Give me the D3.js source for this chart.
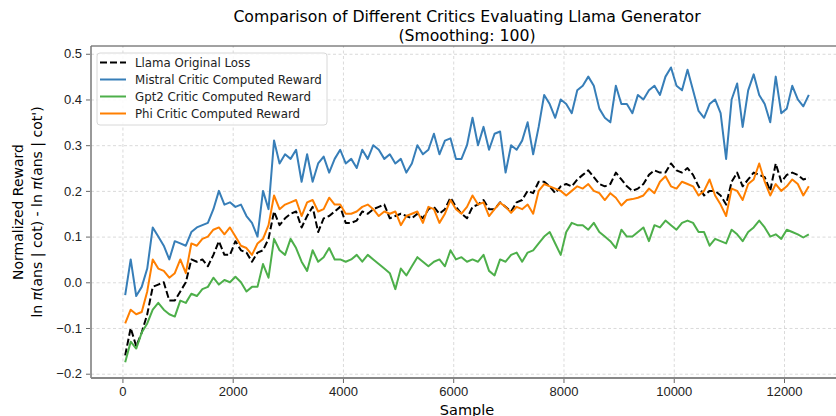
<!DOCTYPE html>
<html>
<head>
<meta charset="utf-8">
<script src="https://cdn.jsdelivr.net/npm/d3@7"></script>
<style>
  body { margin: 0; background: #fff; }
  svg { font-family: "DejaVu Sans", sans-serif; display: block; }
  .grid line { stroke: #d0d0d0; stroke-dasharray: 3,2.5; stroke-width: 0.8; }
  .grid path { display: none; }
  .axis path { display: none; }
  .axis line { stroke: #666; }
  .axis text { font-size: 13px; fill: #222; }
</style>
</head>
<body>
<svg width="836" height="416"></svg>
<script>
// sample positions (every 100 samples, smoothing window 100)
var firstSample = 50, sampleStep = 100;

// values, one per sample position
var llamaLoss = [-0.16,-0.1,-0.14,-0.11,-0.07,-0.01,-0.005,0.0,-0.04,-0.04,
  -0.02,0.0,0.05,0.045,0.05,0.035,0.06,0.09,0.06,0.06,
  0.09,0.07,0.065,0.045,0.065,0.07,0.095,0.155,0.125,0.14,
  0.15,0.155,0.12,0.145,0.165,0.11,0.14,0.145,0.155,0.165,
  0.13,0.13,0.135,0.155,0.15,0.16,0.165,0.17,0.14,0.145,
  0.15,0.145,0.14,0.15,0.14,0.16,0.165,0.15,0.16,0.185,
  0.165,0.15,0.14,0.165,0.17,0.18,0.16,0.16,0.175,0.165,
  0.155,0.175,0.18,0.2,0.195,0.22,0.22,0.21,0.195,0.21,
  0.215,0.21,0.225,0.235,0.245,0.23,0.215,0.21,0.215,0.24,
  0.225,0.21,0.2,0.205,0.215,0.235,0.245,0.24,0.24,0.26,
  0.245,0.24,0.25,0.235,0.21,0.19,0.2,0.2,0.19,0.17,
  0.22,0.24,0.21,0.225,0.24,0.235,0.23,0.2,0.26,0.22,
  0.235,0.24,0.235,0.225,0.228];

var mistralReward = [-0.028,0.05,-0.03,-0.01,0.03,0.12,0.1,0.08,0.05,0.09,
  0.085,0.08,0.11,0.12,0.125,0.13,0.16,0.2,0.17,0.175,
  0.165,0.17,0.145,0.13,0.1,0.2,0.16,0.31,0.26,0.28,
  0.27,0.29,0.22,0.28,0.22,0.26,0.275,0.24,0.27,0.29,
  0.26,0.27,0.25,0.29,0.27,0.3,0.29,0.27,0.28,0.26,
  0.27,0.24,0.26,0.3,0.28,0.29,0.325,0.28,0.31,0.315,
  0.27,0.27,0.3,0.36,0.3,0.34,0.29,0.325,0.33,0.24,
  0.3,0.29,0.31,0.35,0.28,0.34,0.41,0.39,0.36,0.4,
  0.39,0.37,0.42,0.43,0.45,0.43,0.38,0.36,0.35,0.43,
  0.39,0.39,0.37,0.41,0.4,0.42,0.43,0.41,0.45,0.47,
  0.43,0.42,0.465,0.42,0.375,0.36,0.39,0.4,0.37,0.27,
  0.4,0.435,0.34,0.42,0.455,0.41,0.39,0.35,0.45,0.37,
  0.38,0.43,0.4,0.385,0.41];

var gpt2Reward = [-0.175,-0.13,-0.145,-0.11,-0.09,-0.06,-0.045,-0.06,-0.07,-0.075,
  -0.04,-0.045,-0.025,-0.03,-0.015,-0.01,0.01,-0.005,0.005,0.0,
  0.012,0.0,-0.02,-0.01,-0.01,0.04,0.01,0.095,0.07,0.06,
  0.095,0.075,0.045,0.025,0.07,0.045,0.055,0.075,0.05,0.05,
  0.045,0.05,0.06,0.045,0.06,0.05,0.04,0.03,0.02,-0.015,
  0.03,0.015,0.035,0.055,0.045,0.035,0.045,0.05,0.035,0.07,
  0.05,0.055,0.045,0.05,0.045,0.06,0.025,0.015,0.05,0.045,
  0.06,0.065,0.045,0.065,0.07,0.085,0.1,0.11,0.085,0.06,
  0.11,0.13,0.125,0.125,0.115,0.13,0.11,0.1,0.09,0.075,
  0.115,0.1,0.1,0.11,0.12,0.09,0.125,0.12,0.135,0.125,
  0.115,0.13,0.135,0.13,0.11,0.11,0.08,0.095,0.09,0.085,
  0.115,0.105,0.09,0.11,0.12,0.135,0.12,0.1,0.105,0.095,
  0.115,0.11,0.105,0.098,0.105];

var phiReward = [-0.09,-0.06,-0.07,-0.065,-0.02,0.05,0.03,0.025,0.01,0.02,
  0.05,0.02,0.085,0.08,0.095,0.1,0.115,0.12,0.105,0.12,
  0.1,0.08,0.075,0.06,0.085,0.095,0.125,0.19,0.16,0.17,
  0.175,0.18,0.145,0.175,0.18,0.155,0.16,0.185,0.17,0.17,
  0.15,0.15,0.155,0.165,0.17,0.16,0.145,0.155,0.15,0.155,
  0.125,0.145,0.15,0.155,0.13,0.165,0.16,0.13,0.15,0.18,
  0.16,0.15,0.165,0.19,0.17,0.175,0.145,0.16,0.174,0.165,
  0.152,0.165,0.16,0.17,0.15,0.2,0.215,0.21,0.205,0.2,
  0.19,0.2,0.21,0.205,0.215,0.2,0.195,0.18,0.195,0.185,
  0.168,0.18,0.182,0.185,0.19,0.205,0.195,0.22,0.232,0.21,
  0.205,0.22,0.215,0.21,0.19,0.2,0.225,0.19,0.17,0.145,
  0.205,0.2,0.18,0.215,0.225,0.26,0.22,0.19,0.215,0.2,
  0.21,0.225,0.215,0.19,0.21];

var seriesNames = ["Llama Original Loss", "Mistral Critic Computed Reward",
  "Gpt2 Critic Computed Reward", "Phi Critic Computed Reward"];
var seriesColors = ["#000000", "#377eb8", "#4daf4a", "#ff7f00"];
var xTicks = [0, 2000, 4000, 6000, 8000, 10000, 12000];
var yTicks = [-0.2, -0.1, 0.0, 0.1, 0.2, 0.3, 0.4, 0.5];

var samples = d3.range(llamaLoss.length).map(function(i) { return firstSample + i * sampleStep; });
var allSeries = [llamaLoss, mistralReward, gpt2Reward, phiReward];

var svg = d3.select("svg");

// plot box (the right edge runs past the picture, like the original)
var plotL = 91, plotR = 843, plotT = 46, plotB = 378;

var xScale = d3.scaleLinear().domain([-570, 13070]).range([plotL, plotR]);
var yScale = d3.scaleLinear().domain([-0.2094, 0.517]).range([plotB, plotT]);

// grid
svg.append("g")
  .attr("class", "grid")
  .attr("transform", "translate(0," + plotB + ")")
  .call(d3.axisBottom(xScale).tickValues(xTicks).tickSize(-(plotB - plotT)).tickFormat(""));
svg.append("g")
  .attr("class", "grid")
  .attr("transform", "translate(" + plotL + ",0)")
  .call(d3.axisLeft(yScale).tickValues(yTicks).tickSize(-(plotR - plotL)).tickFormat(""));

// lines
var line = d3.line()
  .x(function(d, i) { return xScale(samples[i]); })
  .y(function(d) { return yScale(d); });

allSeries.forEach(function(s, k) {
  svg.append("path")
    .datum(s)
    .attr("fill", "none")
    .attr("stroke", seriesColors[k])
    .attr("stroke-width", 2)
    .attr("stroke-linejoin", "round")
    .attr("stroke-dasharray", k == 0 ? "7,3" : null)
    .attr("d", line);
});

// spines
svg.append("line").attr("x1", plotL).attr("x2", plotR).attr("y1", plotT).attr("y2", plotT)
  .attr("stroke", "#444").attr("stroke-width", 1);
svg.append("line").attr("x1", plotL).attr("x2", plotL).attr("y1", plotT).attr("y2", plotB)
  .attr("stroke", "#777").attr("stroke-width", 1.5);
svg.append("line").attr("x1", plotL).attr("x2", plotR).attr("y1", plotB).attr("y2", plotB)
  .attr("stroke", "#888").attr("stroke-width", 2);

// axes
svg.append("g")
  .attr("class", "axis")
  .attr("transform", "translate(0," + (plotB + 1) + ")")
  .call(d3.axisBottom(xScale).tickValues(xTicks).tickSize(4).tickPadding(4).tickFormat(d3.format("d")));
svg.append("g")
  .attr("class", "axis")
  .attr("transform", "translate(" + (plotL - 1) + ",0)")
  .call(d3.axisLeft(yScale).tickValues(yTicks).tickSize(4).tickPadding(4).tickFormat(function(d) {
    return d3.format(".1f")(d).replace("-", "\u2212");
  }));

// title
svg.append("text").attr("x", 467).attr("y", 22).attr("text-anchor", "middle")
  .attr("font-size", "15.7px").text("Comparison of Different Critics Evaluating Llama Generator");
svg.append("text").attr("x", 467).attr("y", 41).attr("text-anchor", "middle")
  .attr("font-size", "15.7px").text("(Smoothing: 100)");

// axis labels
svg.append("text").attr("x", 467).attr("y", 415).attr("text-anchor", "middle")
  .attr("font-size", "14.5px").text("Sample");
var yl = svg.append("text").attr("transform", "translate(0,212) rotate(-90)")
  .attr("text-anchor", "middle").attr("font-size", "14px");
yl.append("tspan").attr("x", 0).attr("y", 23).text("Normalized Reward");
yl.append("tspan").attr("x", 0).attr("y", 42).html("ln <tspan font-style=\"italic\">\u03c0</tspan>(ans | cot) - ln <tspan font-style=\"italic\">\u03c0</tspan>(ans | cot')");

// legend
var legend = svg.append("g").attr("transform", "translate(97,53)");
legend.append("rect").attr("width", 230).attr("height", 72).attr("rx", 3)
  .attr("fill", "#fff").attr("fill-opacity", 0.85).attr("stroke", "#d8d8d8");
seriesNames.forEach(function(name, k) {
  var g = legend.append("g").attr("transform", "translate(0," + (9.5 + k * 17) + ")");
  g.append("line").attr("x1", 3).attr("x2", 29).attr("stroke", seriesColors[k])
    .attr("stroke-width", 2).attr("stroke-dasharray", k == 0 ? "7,3" : null);
  g.append("text").attr("x", 38).attr("y", 4).attr("font-size", "11.8px").attr("fill", "#222").text(name);
});
</script>
</body>
</html>
